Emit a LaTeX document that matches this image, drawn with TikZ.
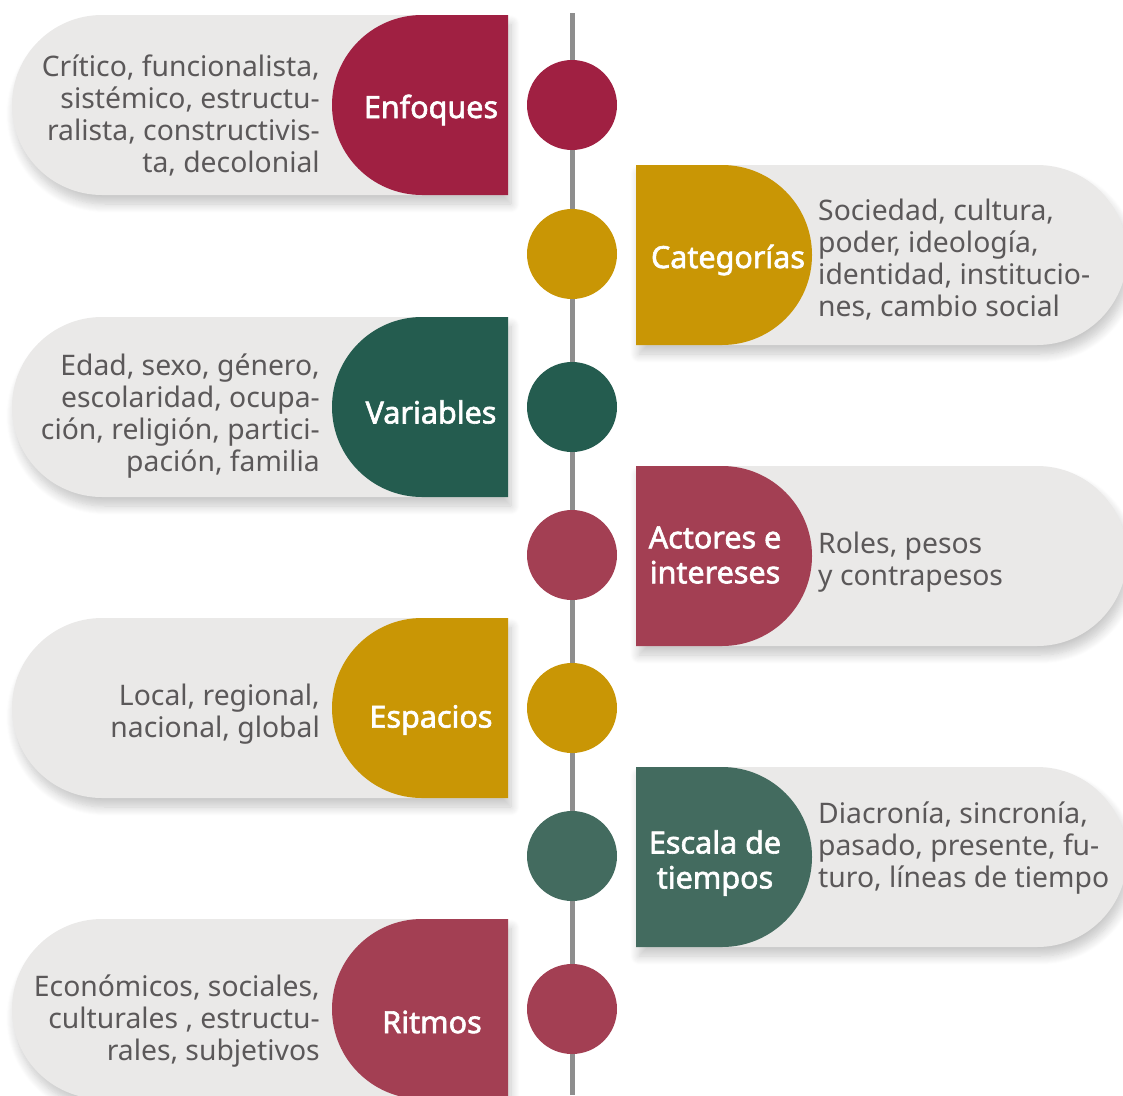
\documentclass[tikz,border=0pt]{standalone}
\usepackage{fontspec}
\setmainfont{Noto Sans}
\IfFontExistsTF{Noto Sans Bold}{\newfontfamily\ttlfont{Noto Sans Bold}[FakeBold=0.6]}{%
  \IfFontExistsTF{Noto Sans SemiBold}{\newfontfamily\ttlfont{Noto Sans SemiBold}[FakeBold=0.6]}{%
    \newfontfamily\ttlfont{Noto Sans}[FakeBold=2]}}
\usetikzlibrary{shadows.blur}
\definecolor{cCrimson}{HTML}{A02042}
\definecolor{cGold}{HTML}{C99605}
\definecolor{cDkGreen}{HTML}{245C4F}
\definecolor{cRose}{HTML}{A33F53}
\definecolor{cGreen}{HTML}{436B5F}
\definecolor{cPill}{HTML}{EAE9E8}
\definecolor{cTxt}{HTML}{5B5859}
\definecolor{cLine}{HTML}{8E8E8E}
\tikzset{
  pill/.style={fill=cPill, blur shadow={shadow xshift=3pt, shadow yshift=-9pt, shadow blur radius=9pt, shadow blur steps=10, shadow opacity=22}},
  title/.style={text=white, font=\ttlfont\fontsize{30.5}{35}\selectfont, align=center, inner sep=0pt},
  desc/.style={text=cTxt, font=\fontsize{28.3}{32}\selectfont, inner sep=0pt},
  dot/.style={circle, minimum size=90pt, inner sep=0pt},
  spine/.style={draw=cLine, line width=5pt}
}
% #1 name, #2 top y, #3 colour, #4 title, #5 title x, #6 title y, #7 desc y, #8 description
\newcommand\leftitem[8]{%
  \fill[pill] (508,#2) -- (102,#2) arc[start angle=270,end angle=90,radius=90] -- (508,#2+180) -- cycle;
  \fill[#3] (508,#2) -- (422,#2) arc[start angle=270,end angle=90,radius=90] -- (508,#2+180) -- cycle;
  \node[title] (t#1) at (#5,#6) {#4};
  \node[desc, anchor=east, align=right] (d#1) at (320,#7) {#8};
}
\newcommand\rightitem[8]{%
  \fill[pill] (636,#2) -- (1037,#2) arc[start angle=-90,end angle=90,radius=90] -- (636,#2+180) -- cycle;
  \fill[#3] (636,#2) -- (722,#2) arc[start angle=-90,end angle=90,radius=90] -- (636,#2+180) -- cycle;
  \node[title] (t#1) at (#5,#6) {#4};
  \node[desc, anchor=west, align=left] (d#1) at (818,#7) {#8};
}
\begin{document}
\begin{tikzpicture}[x=1pt,y=-1pt]
\useasboundingbox (0,0) rectangle (1123,1095);
\leftitem{1}{15}{cCrimson}{Enfoques}{431}{110}{115}{Crítico, funcionalista,\\sistémico, estructu-\\ralista, constructivis-\\ta, decolonial}
\rightitem{2}{165}{cGold}{Categorías}{728}{260}{260}{Sociedad, cultura,\\poder, ideología,\\identidad, institucio-\\nes, cambio social}
\leftitem{3}{317}{cDkGreen}{Variables}{431}{412}{416}{Edad, sexo, género,\\escolaridad, ocupa-\\ción, religión, partici-\\pación, familia}
\rightitem{4}{466}{cRose}{Actores e\\intereses}{715}{555}{562}{Roles, pesos\\y contrapesos}
\leftitem{5}{618}{cGold}{Espacios}{431}{720}{714}{Local, regional,\\nacional, global}
\rightitem{6}{767}{cGreen}{Escala de\\tiempos}{715}{863}{848}{Diacronía, sincronía,\\pasado, presente, fu-\\turo, líneas de tiempo}
\leftitem{7}{919}{cRose}{Ritmos}{432}{1022}{1021}{Económicos, sociales,\\culturales , estructu-\\rales, subjetivos}
% spine
\coordinate (top) at (572,13);
\coordinate (bot) at (572,1095);
\draw[spine] (top) -- (bot);
\node[dot, fill=cCrimson] (c1) at (572,105) {};
\node[dot, fill=cGold] (c2) at (572,254) {};
\node[dot, fill=cDkGreen] (c3) at (572,407) {};
\node[dot, fill=cRose] (c4) at (572,555) {};
\node[dot, fill=cGold] (c5) at (572,708) {};
\node[dot, fill=cGreen] (c6) at (572,856) {};
\node[dot, fill=cRose] (c7) at (572,1009) {};
\end{tikzpicture}
\end{document}
